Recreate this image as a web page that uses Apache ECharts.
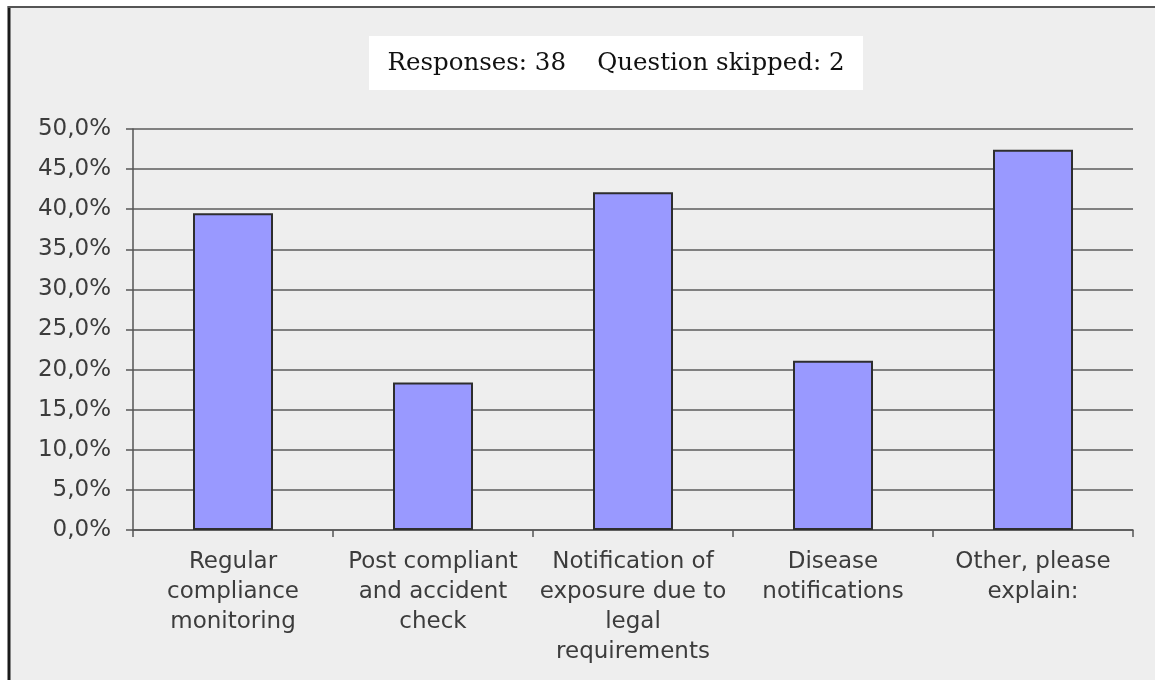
<!DOCTYPE html>
<html>
<head>
<meta charset="utf-8">
<script src="https://cdn.jsdelivr.net/npm/echarts@6/dist/echarts.min.js"></script>
<style>
  html, body { margin: 0; padding: 0; background: #fff; }
  #chart { width: 1155px; height: 680px; }
</style>
</head>
<body>
<div id="chart"></div>
<script>
// survey results, share of respondents (38 answered)
const categories = [
  'Regular\ncompliance\nmonitoring',
  'Post compliant\nand accident\ncheck',
  'Notification of\nexposure due to\nlegal\nrequirements',
  'Disease\nnotifications',
  'Other, please\nexplain:'
];
const percentages = [39.5, 18.4, 42.1, 21.1, 47.4];
const yTicks = { min: 0, max: 50, interval: 5 };
const titleText = 'Responses: 38    Question skipped: 2';

const chart = echarts.init(document.getElementById('chart'), null, { renderer: 'canvas' });

const labelFont = '"DejaVu Sans", Verdana, sans-serif';

chart.setOption({
  backgroundColor: '#ffffff',
  animation: false,
  graphic: [
    // panel background with the left/top frame lines
    { type: 'rect', z: -10, shape: { x: 8, y: 6, width: 1160, height: 690 },
      style: { fill: '#eeeeee' } },
    { type: 'line', z: -9, shape: { x1: 9, y1: 6, x2: 9, y2: 690 },
      style: { stroke: '#1a1a1a', lineWidth: 3 } },
    { type: 'line', z: -9, shape: { x1: 8, y1: 7, x2: 1160, y2: 7 },
      style: { stroke: '#555555', lineWidth: 2 } },
    { type: 'rect', z: -8, shape: { x: 369, y: 36, width: 494, height: 54 },
      style: { fill: '#ffffff' } },
    { type: 'text', z: -7, x: 616, y: 64,
      style: { text: titleText, fill: '#111', font: '24.5px "DejaVu Serif", "Liberation Serif", serif',
               align: 'center', verticalAlign: 'middle' } }
  ],
  grid: { left: 133, right: 22, top: 129, bottom: 150 },
  xAxis: {
    type: 'category',
    data: categories,
    axisLine: { lineStyle: { color: '#555', width: 1.5 } },
    axisTick: { show: true, length: 7, lineStyle: { color: '#555', width: 1.5 } },
    axisLabel: {
      interval: 0,
      margin: 17,
      color: '#3c3c3c',
      fontFamily: labelFont,
      fontSize: 23,
      lineHeight: 30,
      align: 'center'
    }
  },
  yAxis: {
    type: 'value',
    min: yTicks.min,
    max: yTicks.max,
    interval: yTicks.interval,
    axisLine: { show: true, lineStyle: { color: '#555', width: 1.5 } },
    axisTick: { show: true, length: 7, lineStyle: { color: '#555', width: 1.5 } },
    splitLine: { lineStyle: { color: '#808080', width: 1.8 } },
    axisLabel: {
      margin: 22,
      color: '#3c3c3c',
      fontFamily: labelFont,
      fontSize: 23,
      formatter: v => v.toFixed(1).replace('.', ',') + '%'
    }
  },
  series: [{
    type: 'bar',
    data: percentages,
    barWidth: 80,
    itemStyle: { color: '#9999ff', borderColor: '#2e2e2e', borderWidth: 2 }
  }]
});
</script>
</body>
</html>
